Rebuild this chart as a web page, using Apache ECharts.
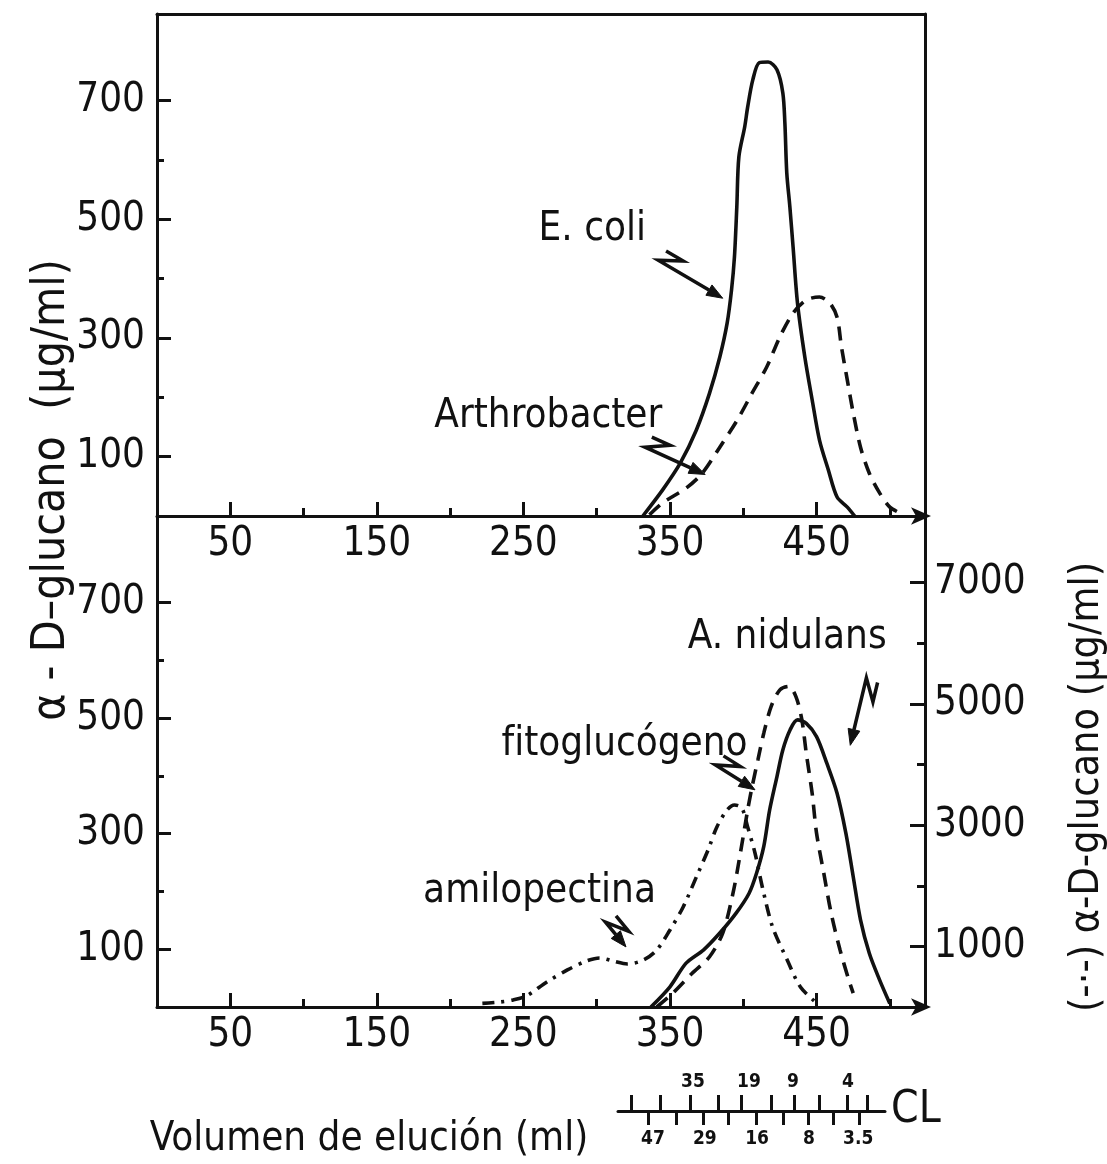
<!DOCTYPE html>
<html><head><meta charset="utf-8">
<script src="https://cdn.jsdelivr.net/npm/echarts@6/dist/echarts.min.js"></script>
<style>html,body{margin:0;padding:0;background:#fff}#c{width:1107px;height:1164px}</style>
</head><body><div id="c"></div>
<script>
// ---------- data (elution volume in ml, concentration in ug/ml) ----------
// Top panel
const ecoliX = [331.5, 345, 357, 368, 377, 384, 389, 392, 394, 395.6, 397, 401, 403, 406.5, 411, 417, 423, 427, 428.4, 429.7, 431.8, 434, 437, 442, 447, 452, 458, 464, 471, 476];
const ecoliY = [0, 44, 89, 145, 207, 268, 325, 381, 437, 521, 605, 656, 689, 735, 764, 765, 752, 713, 662, 578, 521, 453, 359, 268, 196, 128, 78, 32, 15, 0];
const arthroX = [336, 345, 361, 372, 384, 396, 406, 416, 425, 434, 443, 452, 459, 464, 467, 471, 475, 480, 486, 493, 500, 507];
const arthroY = [2, 22, 47, 72, 116, 162, 207, 251, 302, 342, 364, 369, 359, 335, 285, 229, 174, 116, 72, 39, 15, 5];
// Bottom panel (left axis)
const nidulansX = [337, 350, 361, 373, 384, 395, 404, 409, 414, 418, 423, 427, 432, 437, 443, 450, 457, 464, 470, 475, 480, 486, 493, 500];
const nidulansY = [0, 35, 76, 99, 128, 162, 197, 231, 278, 341, 399, 445, 480, 497, 491, 468, 422, 370, 301, 226, 151, 93, 47, 6];
const fitoX = [341, 352, 365, 377, 386, 393, 398, 403, 406, 410, 414, 419, 425, 431, 436, 440, 443, 447, 450, 455, 460, 466, 472, 475];
const fitoY = [0, 24, 58, 87, 128, 197, 266, 341, 381, 428, 474, 520, 549, 555, 537, 497, 439, 370, 301, 231, 162, 99, 47, 24];
// Bottom panel (right axis)
const amiloX = [222, 233, 243, 252, 266, 280, 293, 302, 311, 321, 332, 341, 350, 359, 368, 376, 382, 389, 394, 399, 403, 408, 413, 420, 430, 439, 450];
const amiloY = [60, 80, 116, 182, 413, 611, 759, 809, 759, 710, 776, 941, 1271, 1650, 2145, 2591, 2970, 3251, 3333, 3284, 2970, 2541, 1980, 1320, 776, 330, 66];

// ticks / labels
const xMajorTicks = [50, 150, 250, 350, 450];
const xMinorTicks = [100, 200, 300, 400, 500];
const yLeftMajor = [100, 300, 500, 700];
const yLeftMinor = [200, 400, 600];
const yRightMajor = [1000, 3000, 5000, 7000];
const yRightMinor = [2000, 4000, 6000];
// CL (chain length) scale, positions in elution volume
const clUpTicks = [323.8, 343.1, 363.6, 382.9, 398.8, 419.3, 434.5, 451.8, 470.5, 484.1];
const clUpLabelPos = [365.6, 403.8, 433.8, 471.3];
const clUpLabelText = ['35', '19', '9', '4'];
const clDownTicks = [335.1, 354.5, 372.6, 389.7, 408.6, 427.2, 444.3, 461.3, 479.1];
const clDownLabelPos = [338.3, 373.7, 409.3, 444.7, 478.2];
const clDownLabelText = ['47', '29', '16', '8', '3.5'];

// ---------- styling ----------
const FONT = "'Liberation Sans Narrow','Arial Narrow','DejaVu Sans Condensed',sans-serif";
const INK = '#111';
const XMAX = 524;
const lineW = 3;
const curveW = 3.6;

const zip = (xs, ys) => xs.map((x, i) => [x, ys[i]]);
const axLine = (show, extra) => Object.assign({ show: show, onZero: false, lineStyle: { color: INK, width: lineW } }, extra || {});
const noSplit = { show: false };

function ax(grid, pos, min, max, o) {
  return Object.assign({
    type: 'value', gridIndex: grid, position: pos, min: min, max: max,
    splitLine: noSplit, axisLine: axLine(false), axisTick: { show: false }, axisLabel: { show: false }
  }, o);
}
const tick = (vals, len) => ({ show: true, inside: true, length: len, customValues: vals, lineStyle: { color: INK, width: lineW } });
const lab = (vals, margin) => ({ show: true, customValues: vals, fontSize: 40, fontFamily: FONT, color: INK, margin: margin, formatter: v => String(v) });

const pick = (pos, txt) => v => { let b = 0; pos.forEach((p, i) => { if (Math.abs(p - v) < Math.abs(pos[b] - v)) b = i; }); return txt[b]; };
const arrowEnd = { symbol: ['none', 'arrow'], symbolSize: [13, 20], symbolOffset: [0, 6] };

const chart = echarts.init(document.getElementById('c'), null, { renderer: 'canvas' });

const option = {
  animation: false,
  backgroundColor: '#fff',
  grid: [
    { left: 157, top: 14, width: 768, height: 502 },
    { left: 157, top: 516, width: 768, height: 491 },
    { left: 618, top: 1111, width: 267, height: 1 }
  ],
  xAxis: [
    ax(0, 'bottom', 0, XMAX, { axisLine: axLine(true, arrowEnd), axisTick: tick(xMajorTicks, 14), axisLabel: lab(xMajorTicks, 9) }),
    ax(0, 'bottom', 0, XMAX, { axisTick: tick(xMinorTicks, 8) }),
    ax(0, 'top', 0, XMAX, { axisLine: axLine(true) }),
    ax(1, 'bottom', 0, XMAX, { axisLine: axLine(true, arrowEnd), axisTick: tick(xMajorTicks, 14), axisLabel: lab(xMajorTicks, 9) }),
    ax(1, 'bottom', 0, XMAX, { axisTick: tick(xMinorTicks, 8) }),
    ax(2, 'top', 314.5, 496.5, {
      axisLine: axLine(true),
      axisTick: { show: true, inside: false, length: 16, customValues: clUpTicks, lineStyle: { color: INK, width: lineW } },
      axisLabel: { show: true, customValues: clUpLabelPos, formatter: pick(clUpLabelPos, clUpLabelText), fontSize: 19, fontWeight: 'bold', fontFamily: FONT, color: INK, margin: 19 },
      name: 'CL', nameLocation: 'end', nameGap: 6, nameTextStyle: { fontSize: 44, fontFamily: FONT, color: INK, verticalAlign: 'middle', padding: [0, 0, -6, 0] }
    }),
    ax(2, 'bottom', 314.5, 496.5, {
      axisTick: { show: true, inside: false, length: 13, customValues: clDownTicks, lineStyle: { color: INK, width: lineW } },
      axisLabel: { show: true, customValues: clDownLabelPos, formatter: pick(clDownLabelPos, clDownLabelText), fontSize: 19, fontWeight: 'bold', fontFamily: FONT, color: INK, margin: 18 }
    })
  ],
  yAxis: [
    ax(0, 'left', 0, 846, { axisLine: axLine(true), axisTick: tick(yLeftMajor, 14), axisLabel: lab(yLeftMajor, 12) }),
    ax(0, 'left', 0, 846, { axisTick: tick(yLeftMinor, 7) }),
    ax(0, 'right', 0, 846, { axisLine: axLine(true) }),
    ax(1, 'left', 0, 850, { axisLine: axLine(true), axisTick: tick(yLeftMajor, 14), axisLabel: lab(yLeftMajor, 12) }),
    ax(1, 'left', 0, 850, { axisTick: tick(yLeftMinor, 7) }),
    ax(1, 'right', 0, 8100, { axisLine: axLine(true), axisTick: tick(yRightMajor, 15), axisLabel: lab(yRightMajor, 9) }),
    ax(1, 'right', 0, 8100, { axisTick: tick(yRightMinor, 8) }),
    ax(2, 'left', 0, 1, { show: false })
  ],
  series: [
    { name: 'E. coli', type: 'line', xAxisIndex: 0, yAxisIndex: 0, data: zip(ecoliX, ecoliY), smooth: 0.3, showSymbol: false, lineStyle: { color: INK, width: curveW } },
    { name: 'Arthrobacter', type: 'line', xAxisIndex: 0, yAxisIndex: 0, data: zip(arthroX, arthroY), smooth: 0.3, showSymbol: false, lineStyle: { color: INK, width: curveW, type: [14, 9] } },
    { name: 'A. nidulans', type: 'line', xAxisIndex: 3, yAxisIndex: 3, data: zip(nidulansX, nidulansY), smooth: 0.3, showSymbol: false, lineStyle: { color: INK, width: curveW } },
    { name: 'fitoglucógeno', type: 'line', xAxisIndex: 3, yAxisIndex: 3, data: zip(fitoX, fitoY), smooth: 0.3, showSymbol: false, lineStyle: { color: INK, width: curveW, type: [14, 9] } },
    { name: 'amilopectina', type: 'line', xAxisIndex: 3, yAxisIndex: 5, data: zip(amiloX, amiloY), smooth: 0.3, showSymbol: false, lineStyle: { color: INK, width: curveW, type: [12, 7, 3, 7] } }
  ]
};
chart.setOption(option);

// ---------- annotations (anchored in data coordinates) ----------
const labels = [
  { text: 'E. coli', grid: 0, at: [297, 482] },
  { text: 'Arthrobacter', grid: 0, at: [267, 167] },
  { text: 'A. nidulans', grid: 1, at: [430, 639] },
  { text: 'f\u200Citoglucógeno', grid: 1, at: [319, 454] },
  { text: 'amilopectina', grid: 1, at: [261, 199] }
];
const arrows = [
  { grid: 0, from: [342, 431], to: [386, 367] },
  { grid: 0, from: [333, 116], to: [374, 70] },
  { grid: 1, from: [484, 570], to: [473, 453] },
  { grid: 1, from: [381, 419], to: [408, 376] },
  { grid: 1, from: [306, 147], to: [320, 104] }
];
const px = (g, p) => chart.convertToPixel({ gridIndex: g }, p);
const graphics = [];
labels.forEach(l => {
  const p = px(l.grid, l.at);
  graphics.push({ type: 'text', x: p[0], y: p[1], style: { text: l.text, font: '40px ' + FONT, fill: INK, textAlign: 'center', textVerticalAlign: 'middle' } });
});
arrows.forEach(a => {
  const t = px(a.grid, a.from), h = px(a.grid, a.to);
  const dx = h[0] - t[0], dy = h[1] - t[1], L = Math.hypot(dx, dy);
  const d = [dx / L, dy / L], n = [d[1], -d[0]];
  const s1 = [t[0] + n[0] * 12 + d[0] * 2, t[1] + n[1] * 12 + d[1] * 2];
  const s2 = [s1[0] + d[0] * 20, s1[1] + d[1] * 20];
  const b = [h[0] - d[0] * 16, h[1] - d[1] * 16];
  graphics.push({ type: 'polyline', shape: { points: [s1, s2, t, b] }, style: { stroke: INK, lineWidth: 3.5, fill: null, lineJoin: 'miter' } });
  graphics.push({ type: 'polygon', shape: { points: [h, [b[0] + n[0] * 6, b[1] + n[1] * 6], [b[0] - n[0] * 6, b[1] - n[1] * 6]] }, style: { fill: INK, stroke: INK, lineWidth: 1 } });
});
graphics.push({ type: 'text', x: 52, y: 490, rotation: Math.PI / 2, style: { text: 'α - D–glucano  (μg/ml)', font: '46px ' + FONT, fill: INK, textAlign: 'center', textVerticalAlign: 'middle' } });
graphics.push({ type: 'text', x: 1087, y: 787, rotation: Math.PI / 2, style: { text: '(-·-) α-D-glucano (μg/ml)', font: '41px ' + FONT, fill: INK, textAlign: 'center', textVerticalAlign: 'middle' } });
graphics.push({ type: 'text', x: 369, y: 1140, style: { text: 'Volumen de elución (ml)', font: '40px ' + FONT, fill: INK, textAlign: 'center', textVerticalAlign: 'middle' } });
chart.setOption({ graphic: graphics });
</script>
</body></html>
